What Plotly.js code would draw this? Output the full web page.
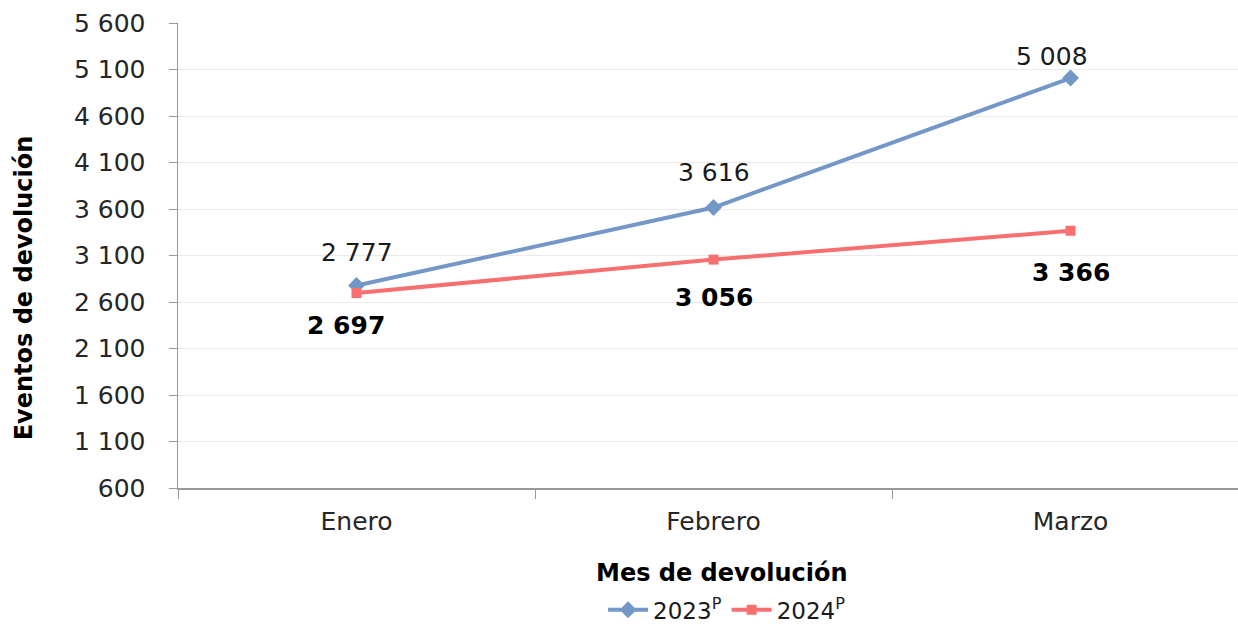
<!DOCTYPE html>
<html>
<head>
<meta charset="utf-8">
<script src="https://cdn.plot.ly/plotly-3.0.1.min.js"></script>
<style>html,body{margin:0;padding:0;background:#fff;}#chart{width:1238px;height:626px;}</style>
</head>
<body>
<div id="chart"></div>
<script>
const months = ["Enero", "Febrero", "Marzo"];
const values2023 = [2777, 3616, 5008];
const values2024 = [2697, 3056, 3366];
const seriesNames = ["2023<sup>P</sup>", "2024<sup>P</sup>"];
const yTickVals = [600, 1100, 1600, 2100, 2600, 3100, 3600, 4100, 4600, 5100, 5600];

const FONT = "DejaVu Sans, Verdana, sans-serif";
const blue = "#7397c7";
const red = "#f76f6f";

function fmt(v) {
  return String(v).replace(/\B(?=(\d{3})+(?!\d))/g, " ");
}

// label offsets (style only)
const shift2023 = [[0, 33], [0, 35], [-19, 22]];
const shift2024 = [[-11, -33], [0, -38], [0, -42]];

const traces = [
  {x: months, y: values2023, name: seriesNames[0], type: "scatter", mode: "lines+markers",
   line: {color: blue, width: 4}, marker: {symbol: "diamond", size: 13, color: blue}},
  {x: months, y: values2024, name: seriesNames[1], type: "scatter", mode: "lines+markers",
   line: {color: red, width: 4}, marker: {symbol: "square", size: 10, color: red}}
];

const annotations = [];
months.forEach((m, i) => {
  annotations.push({x: m, y: values2023[i], xref: "x", yref: "y", text: fmt(values2023[i]),
    showarrow: false, xshift: shift2023[i][0], yshift: shift2023[i][1],
    font: {family: FONT, size: 25, color: "#1a1a1a"}});
  annotations.push({x: m, y: values2024[i], xref: "x", yref: "y", text: "<b>" + fmt(values2024[i]) + "</b>",
    showarrow: false, xshift: shift2024[i][0], yshift: shift2024[i][1],
    font: {family: FONT, size: 25, color: "#000"}});
});
annotations.push({text: "<b>Eventos de devolución</b>", xref: "paper", yref: "paper",
  x: -0.145, y: 0.43, textangle: -90, showarrow: false, xanchor: "center", yanchor: "middle",
  font: {family: FONT, size: 24, color: "#000"}});
annotations.push({text: "<b>Mes de devolución</b>", xref: "paper", yref: "paper",
  x: 0.513, y: -0.183, showarrow: false, xanchor: "center", yanchor: "middle",
  font: {family: FONT, size: 24, color: "#000"}});

const layout = {
  width: 1238, height: 626,
  margin: {l: 178, r: 0, t: 23, b: 138, autoexpand: false},
  paper_bgcolor: "#fff", plot_bgcolor: "#fff",
  separators: ". ",
  font: {family: FONT, size: 25, color: "#262626"},
  showlegend: true,
  legend: {orientation: "h", x: 0.518, xanchor: "center", y: -0.262, yanchor: "middle",
    font: {family: FONT, size: 23, color: "#1a1a1a"}, itemwidth: 40, tracegroupgap: 0},
  xaxis: {type: "category", range: [-0.5, 2.469], tickson: "boundaries", ticks: "outside",
    ticklen: 9, tickcolor: "#999", showline: true, linecolor: "#999", linewidth: 1.5,
    showgrid: false, zeroline: false, ticklabelstandoff: 10,
    tickfont: {family: FONT, size: 25, color: "#262626"}},
  yaxis: {range: [600, 5600], tickvals: yTickVals, ticktext: yTickVals.map(fmt), ticks: "outside",
    ticklen: 8, tickcolor: "#999", showline: true, linecolor: "#999", linewidth: 1.5,
    showgrid: true, gridcolor: "#ebebeb", gridwidth: 1, zeroline: false, ticklabelstandoff: 18,
    tickfont: {family: FONT, size: 25, color: "#262626"}},
  annotations: annotations
};

Plotly.newPlot("chart", traces, layout, {displayModeBar: false, staticPlot: true});
</script>
</body>
</html>
